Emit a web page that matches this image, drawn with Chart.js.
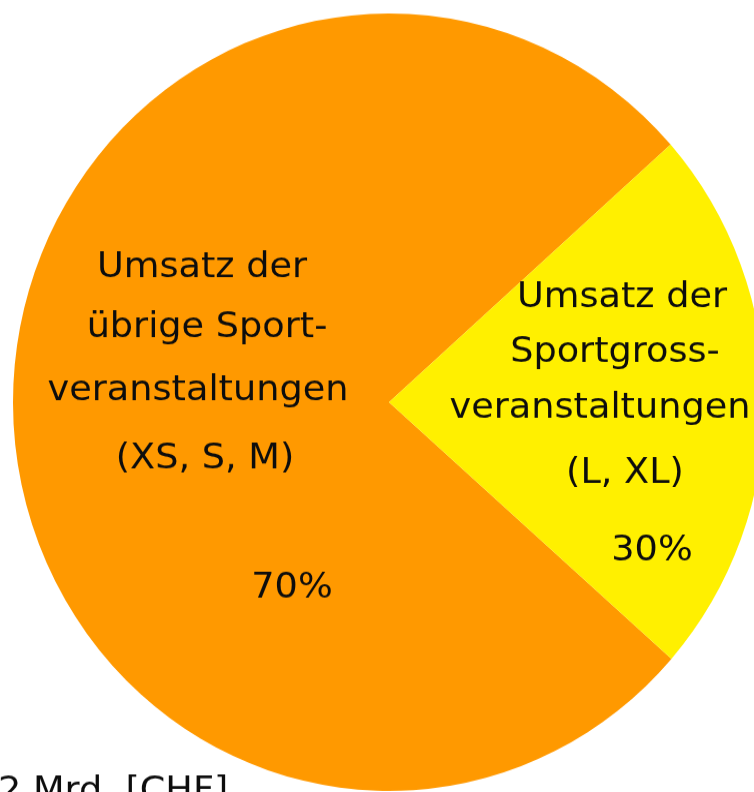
<!DOCTYPE html>
<html>
<head>
<meta charset="utf-8">
<script src="https://cdn.jsdelivr.net/npm/chart.js@4/dist/chart.umd.min.js"></script>
<style>
    html, body { margin: 0; padding: 0; background: #fff; overflow: hidden; }
    #wrap { width: 754px; height: 792px; overflow: hidden; position: relative; }
    /* das Original ist leicht hochgezogen (Ellipse statt Kreis) */
    #stretch { position: absolute; left: 0; top: 0; transform: scaleY(1.0339); transform-origin: 0 0; }
    canvas { display: block; }
</style>
</head>
<body>
<div id="wrap"><div id="stretch"><canvas id="pie" width="800" height="766"></canvas></div></div>
<script>
// Kategorien (Reihenfolge im Uhrzeigersinn ab Orange)
const categories = ['Umsatz der übrige Sportveranstaltungen (XS, S, M)', 'Umsatz der Sportgrossveranstaltungen (L, XL)'];
// Anteile, wie im Bild gezeichnet (Winkel der Segmente)
const shares = [77.0, 23.0];
// Beschriftungen im Bild
const percentLabels = ['70%', '30%'];
const labelLines = [
    ['Umsatz der', 'übrige Sport-', 'veranstaltungen', '(XS, S, M)'],
    ['Umsatz der', 'Sportgross-', 'veranstaltungen', '(L, XL)']
];
const footnote = '2 Mrd. [CHF]';
const colors = ['#FF9900', '#FFF000'];

const STRETCH = 1.0339;

// Textpositionen relativ zum Mittelpunkt (Bildschirm-px, Grundlinie)
const lineOffsets = [
    [[-187, -125], [-182, -65], [-191, -2], [-184, 66]],
    [[233, -95], [226, -40], [211, 15], [236, 81]]
];
const percentOffsets = [[-97, 195], [263, 158]];

function drawText(ctx, t, x, y) {
    ctx.save();
    ctx.translate(x, y);
    ctx.scale(1.11, 1);
    ctx.fillText(t, 0, 0);
    ctx.restore();
}

const labelPlugin = {
    id: 'sliceLabels',
    afterDraw(chart) {
        const ctx = chart.ctx;
        const arc = chart.getDatasetMeta(0).data[0];
        const cx = arc.x, cy = arc.y, k = arc.outerRadius / 376;
        ctx.save();
        ctx.fillStyle = '#0d0d0d';
        ctx.font = '33px "DejaVu Sans", Verdana, sans-serif';
        ctx.textAlign = 'center';
        ctx.textBaseline = 'alphabetic';
        labelLines.forEach((lines, i) => {
            lines.forEach((t, j) => {
                const [dx, dy] = lineOffsets[i][j];
                drawText(ctx, t, cx + dx * k, cy + dy * k / STRETCH);
            });
            const [px, py] = percentOffsets[i];
            drawText(ctx, percentLabels[i], cx + px * k, cy + py * k / STRETCH);
        });
        // Fussnote unten links (im Original abgeschnitten)
        ctx.textAlign = 'left';
        drawText(ctx, footnote, -2, 801 / STRETCH);
        ctx.restore();
    }
};

new Chart(document.getElementById('pie'), {
    type: 'pie',
    data: {
        labels: categories,
        datasets: [{
            data: shares,
            backgroundColor: colors,
            borderWidth: 0,
            hoverOffset: 0,
            offset: 0
        }]
    },
    options: {
        responsive: false,
        animation: false,
        events: [],
        rotation: 131.3,
        radius: 376,
        layout: { padding: { left: 13, right: 35, top: 13, bottom: 1 } },
        plugins: {
            legend: { display: false },
            tooltip: { enabled: false }
        }
    },
    plugins: [labelPlugin]
});
</script>
</body>
</html>
